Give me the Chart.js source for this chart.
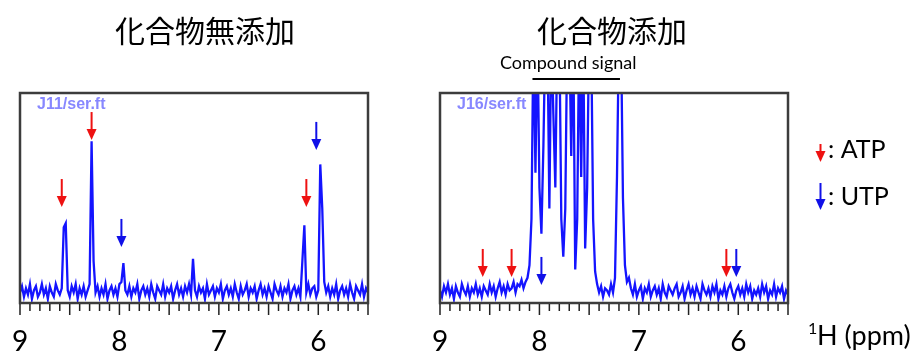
<!DOCTYPE html>
<html lang="ja">
<head>
<meta charset="utf-8">
<script src="https://cdn.jsdelivr.net/npm/chart.js@4.4.1/dist/chart.umd.min.js"></script>
<style>
  html, body { margin: 0; padding: 0; background: #fff; }
  body { width: 922px; height: 354px; position: relative; overflow: hidden; }
  canvas { position: absolute; top: 0; }
  #specNo { left: 0; }
  #specWith { left: 420px; }
</style>
</head>
<body>
<canvas id="specNo" width="400" height="354"></canvas>
<canvas id="specWith" width="502" height="354"></canvas>
<script>
// ---- spectra: intensities sampled every 0.02 ppm from 9.00 down to 5.50 ppm ----
const ppmStart = 9.0;
const ppmStep = 0.02;

// without compound
const intensityNoCompound = [
  5, 8, 3, 7, 4, 9, 2, 6, 8, 3, 5, 9, 4, 7, 2, 8, 5, 3, 9, 6,
  4, 7, 36, 38, 6, 3, 8, 5, 9, 2, 7, 4, 8, 3, 6, 9, 77, 20, 5, 8,
  3, 7, 4, 9, 2, 6, 8, 4, 7, 3, 9, 10, 19, 6, 4, 8, 3, 7, 5, 9,
  2, 6, 8, 4, 7, 3, 9, 5, 2, 8, 6, 4, 9, 3, 7, 5, 8, 2, 6, 9,
  4, 7, 3, 8, 5, 9, 4, 21, 6, 3, 8, 5, 7, 2, 9, 4, 6, 8, 3, 7,
  5, 9, 2, 6, 8, 4, 7, 3, 9, 5, 2, 8, 4, 6, 9, 3, 7, 5, 8, 2,
  6, 9, 4, 7, 3, 8, 5, 2, 9, 6, 4, 8, 3, 7, 5, 9, 2, 6, 8, 4,
  7, 3, 20, 37, 5, 9, 4, 7, 8, 3, 6, 66, 45, 10, 5, 8, 3, 7, 4, 9,
  2, 6, 8, 4, 7, 3, 9, 5, 2, 8, 6, 4, 9, 3, 7, 5
];

// with compound (compound resonances run off scale between ~8.1 and ~7.1 ppm)
const intensityWithCompound = [
  6, 3, 8, 5, 9, 4, 7, 2, 8, 5, 3, 9, 6, 4, 8, 3, 7, 5, 9, 4,
  7, 3, 8, 6, 4, 9, 5, 8, 3, 7, 10, 5, 8, 4, 9, 6, 7, 10, 5, 9,
  8, 11, 7, 10, 12, 18, 40, 130, 62, 130, 55, 33, 75, 130, 130, 45, 130, 90, 55, 130,
  130, 40, 22, 45, 130, 130, 70, 130, 16, 40, 130, 60, 130, 26, 55, 130, 130, 40, 15, 9,
  5, 8, 3, 7, 6, 4, 9, 5, 12, 60, 130, 130, 50, 18, 10, 12, 7, 4, 9, 3,
  6, 8, 2, 7, 5, 9, 3, 6, 8, 4, 7, 2, 9, 5, 3, 8, 6, 4, 7, 9,
  3, 5, 8, 2, 6, 9, 4, 7, 3, 8, 5, 2, 9, 6, 4, 7, 3, 8, 5, 9,
  2, 6, 4, 8, 3, 7, 9, 5, 2, 6, 8, 4, 7, 3, 9, 5, 8, 2, 6, 4,
  7, 3, 9, 5, 8, 2, 6, 4, 9, 3, 7, 5, 8, 2, 6, 4
];

// x-axis tick marks (tenths of ppm); every fifth one is a long tick
const tickTenthsFrom = 55;
const tickTenthsTo = 90;

// assignment arrows: chemical shift (ppm) and arrow tip height (intensity units)
const atpShiftNo = [8.58, 8.28, 6.12];
const atpTipNo   = [45.7, 77.6, 45.7];
const utpShiftNo = [7.98, 6.02];
const utpTipNo   = [26.7, 72.9];

const atpShiftWith = [8.57, 8.28, 6.12];
const atpTipWith   = [12.4, 12.4, 12.4];
const utpShiftWith = [7.98, 6.02];
const utpTipWith   = [8.6, 12.4];

const panelTitles = ['化合物無添加', '化合物添加'];
const fileLabels  = ['J11/ser.ft', 'J16/ser.ft'];
const legendNames = ['ATP', 'UTP'];
const compoundLabel = 'Compound signal';
const axisNucleus = 'H (ppm)';

const ATP_COLOR = '#ee1111';
const UTP_COLOR = '#1010e8';
const SPEC_COLOR = 'rgb(20,20,255)';

function toPoints(values) {
  return values.map((v, i) => ({ x: +(ppmStart - i * ppmStep).toFixed(2), y: v }));
}

function arrowList(shifts, tips, color) {
  return shifts.map((s, i) => ({ ppm: s, tip: tips[i], color }));
}

function drawArrow(ctx, x, yTip, len, color) {
  ctx.save();
  ctx.strokeStyle = color;
  ctx.fillStyle = color;
  ctx.lineWidth = 2;
  ctx.beginPath();
  ctx.moveTo(x, yTip - len);
  ctx.lineTo(x, yTip - 9);
  ctx.stroke();
  ctx.beginPath();
  ctx.moveTo(x - 5, yTip - 11);
  ctx.lineTo(x + 5, yTip - 11);
  ctx.lineTo(x, yTip);
  ctx.closePath();
  ctx.fill();
  ctx.restore();
}

// everything drawn on top of a spectrum panel: title, file name, arrows,
// notes (right panel), frame and finally the ppm tick marks
const panelPlugin = {
  id: 'panel',
  afterDraw(chart, args, opts) {
    const { ctx, chartArea: a, scales } = chart;
    const sx = scales.x, sy = scales.y;

    // panel title
    ctx.save();
    ctx.fillStyle = '#000';
    ctx.font = '30px "Noto Sans CJK JP", sans-serif';
    ctx.textAlign = 'center';
    ctx.textBaseline = 'middle';
    ctx.fillText(opts.title, opts.titleX, 31);
    ctx.restore();

    // file name in the top-left corner
    ctx.save();
    ctx.font = 'bold 16px "Liberation Sans", Arial, sans-serif';
    ctx.fillStyle = 'rgba(105,105,255,0.8)';
    ctx.textBaseline = 'alphabetic';
    ctx.textAlign = 'left';
    ctx.fillText(opts.fileLabel, a.left + 17, a.top + 16);
    ctx.restore();

    // assignment arrows
    (opts.arrows || []).forEach(ar => {
      drawArrow(ctx, sx.getPixelForValue(ar.ppm), sy.getPixelForValue(ar.tip), 28, ar.color);
    });

    if (opts.notes) {
      const x1 = sx.getPixelForValue(opts.compoundFrom);
      const x2 = sx.getPixelForValue(opts.compoundTo);
      ctx.save();
      ctx.fillStyle = '#000';
      ctx.font = '18px Lato, sans-serif';
      ctx.textAlign = 'center';
      ctx.textBaseline = 'alphabetic';
      ctx.fillText(compoundLabel, (x1 + x2) / 2 - 8, 69);
      ctx.strokeStyle = '#000';
      ctx.lineWidth = 2;
      ctx.beginPath();
      ctx.moveTo(x1, 79);
      ctx.lineTo(x2, 79);
      ctx.stroke();

      // ATP / UTP key
      ctx.textAlign = 'left';
      ctx.font = '25px Lato, sans-serif';
      drawArrow(ctx, 400.5, 162, 18, ATP_COLOR);
      ctx.fillStyle = '#000';
      ctx.fillText(': ' + legendNames[0], 408, 158);
      drawArrow(ctx, 400.5, 210, 27, UTP_COLOR);
      ctx.fillStyle = '#000';
      ctx.fillText(': ' + legendNames[1], 408, 205);

      // axis name  ¹H (ppm)
      ctx.font = '16px Lato, sans-serif';
      ctx.fillText('1', 388, 334);
      ctx.font = '27px Lato, sans-serif';
      ctx.fillText(axisNucleus, 397, 345);
      ctx.restore();
    }

    // frame
    ctx.save();
    ctx.strokeStyle = '#3c3c3c';
    ctx.lineWidth = 2.5;
    ctx.strokeRect(a.left, a.top, a.right - a.left, a.bottom - a.top);
    ctx.restore();

    // tick marks below the frame
    ctx.save();
    ctx.strokeStyle = '#222222';
    ctx.lineWidth = 1.5;
    ctx.beginPath();
    for (let k = tickTenthsFrom; k <= tickTenthsTo; k++) {
      const px = sx.getPixelForValue(k / 10);
      ctx.moveTo(px, a.bottom + 1);
      ctx.lineTo(px, a.bottom + (k % 5 === 0 ? 12 : 8));
    }
    ctx.stroke();
    ctx.restore();
  }
};

function makeChart(id, values, padRight, panelOpts) {
  return new Chart(document.getElementById(id), {
    type: 'line',
    data: {
      datasets: [{
        data: toPoints(values),
        borderColor: SPEC_COLOR,
        borderWidth: 2.3,
        pointRadius: 0,
        fill: false
      }]
    },
    options: {
      responsive: false,
      animation: false,
      layout: { padding: { left: 20, right: padRight, top: 93, bottom: 0 } },
      plugins: {
        legend: { display: false },
        tooltip: { enabled: false },
        panel: panelOpts
      },
      scales: {
        x: {
          type: 'linear',
          reverse: true,
          min: 5.5,
          max: 9,
          border: { display: false },
          grid: { drawOnChartArea: false, drawTicks: true, tickLength: 12, tickColor: 'rgba(0,0,0,0)' },
          ticks: {
            stepSize: 0.1,
            autoSkip: false,
            maxRotation: 0,
            padding: 10,
            color: '#000',
            font: { family: 'Lato', size: 28 },
            callback: v => {
              const r = Math.round(v * 10);
              return r % 10 === 0 ? String(r / 10) : '';
            }
          },
          afterFit(scale) { scale.height = 51; }
        },
        y: { display: false, min: 0, max: 100 }
      }
    },
    plugins: [panelPlugin]
  });
}

makeChart('specNo', intensityNoCompound, 32, {
  title: panelTitles[0], titleX: 205, fileLabel: fileLabels[0], notes: false,
  arrows: arrowList(atpShiftNo, atpTipNo, ATP_COLOR).concat(arrowList(utpShiftNo, utpTipNo, UTP_COLOR))
});

makeChart('specWith', intensityWithCompound, 134, {
  title: panelTitles[1], titleX: 192, fileLabel: fileLabels[1], notes: true,
  compoundFrom: 8.07, compoundTo: 7.19,
  arrows: arrowList(atpShiftWith, atpTipWith, ATP_COLOR).concat(arrowList(utpShiftWith, utpTipWith, UTP_COLOR))
});
</script>
</body>
</html>
